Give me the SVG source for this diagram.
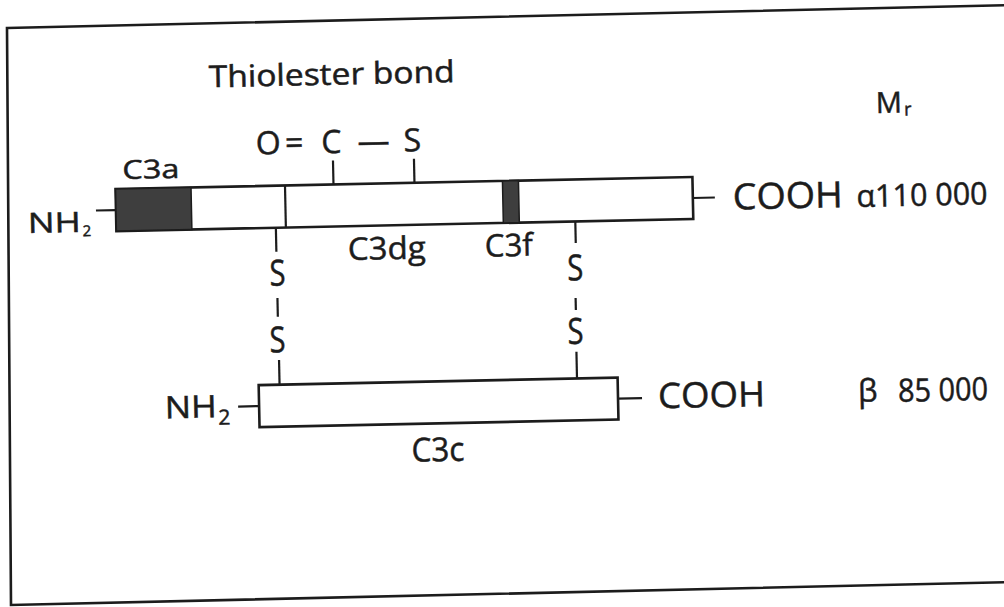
<svg xmlns="http://www.w3.org/2000/svg" width="1004" height="607" viewBox="0 0 1004 607">
<style>
.t{font-family:"Open Sans","Noto Sans","DejaVu Sans",sans-serif;fill:#1c1c1c;stroke:#1c1c1c;stroke-width:0.5}
.ln{stroke:#1c1c1c;stroke-width:2.2;fill:none}
.bar{fill:#ffffff;stroke:#1c1c1c;stroke-width:2.6}
.dark{fill:#3e3e3e;stroke:#1c1c1c;stroke-width:1.5}
.s{font-size:36px;text-anchor:middle}
</style>
<rect width="1004" height="607" fill="#ffffff"/>
<polygon id="frame" points="7,28 1012,5 1012,582 11,605" fill="none" stroke="#1c1c1c" stroke-width="2.6"/>
<g transform="rotate(-1.2 502 303)">
  <g id="alpha-chain">
    <rect class="bar" x="118" y="181" width="577" height="42"/>
    <rect class="dark" x="118" y="181" width="75.5" height="42"/>
    <rect class="dark" x="505" y="181" width="16" height="42"/>
    <line class="ln" x1="287.5" y1="181" x2="287.5" y2="223"/>
    <text class="t" x="29.5" y="223.1" font-size="28" textLength="53" lengthAdjust="spacingAndGlyphs">NH</text>
    <text class="t" x="84.2" y="227.6" font-size="15">2</text>
    <line class="ln" x1="98" y1="202" x2="118" y2="202"/>
    <text class="t" x="125.3" y="171.1" font-size="26" textLength="57" lengthAdjust="spacingAndGlyphs">C3a</text>
    <text class="t" x="348.9" y="256.8" font-size="31" textLength="78" lengthAdjust="spacingAndGlyphs">C3dg</text>
    <text class="t" x="486" y="256.3" font-size="31" textLength="48" lengthAdjust="spacingAndGlyphs">C3f</text>
    <line class="ln" x1="695" y1="202" x2="717" y2="202"/>
    <text class="t" x="735" y="214.3" font-size="36" textLength="110" lengthAdjust="spacingAndGlyphs">COOH</text>
    <text class="t" x="858.7" y="214.5" font-size="31" textLength="131" lengthAdjust="spacingAndGlyphs">α110 000</text>
  </g>
  <g id="beta-chain">
    <rect class="bar" x="257" y="380" width="359" height="42"/>
    <text class="t" x="162.6" y="411.3" font-size="31" textLength="52" lengthAdjust="spacingAndGlyphs">NH</text>
    <text class="t" x="216" y="418.7" font-size="21">2</text>
    <line class="ln" x1="236" y1="401" x2="257" y2="401"/>
    <line class="ln" x1="616" y1="401" x2="640" y2="401"/>
    <text class="t" x="656" y="411.6" font-size="35" textLength="107" lengthAdjust="spacingAndGlyphs">COOH</text>
    <text class="t" x="856" y="409.1" font-size="31">β</text>
    <text class="t" x="896" y="410" font-size="32" textLength="90" lengthAdjust="spacingAndGlyphs">85 000</text>
    <text class="t" x="408.4" y="459.8" font-size="33" textLength="53" lengthAdjust="spacingAndGlyphs">C3c</text>
  </g>
  <g id="thiolester">
    <text class="t" x="213.5" y="81.2" font-size="30" textLength="246" lengthAdjust="spacingAndGlyphs">Thiolester bond</text>
    <text class="t" font-size="32" text-anchor="middle" y="149.5"><tspan x="271.7">O</tspan><tspan x="297.5">=</tspan><tspan x="334.7">C</tspan><tspan x="377">—</tspan><tspan x="415.7">S</tspan></text>
  </g>
  <g id="mr-label">
    <text class="t" x="880" y="120.8" font-size="29">M</text>
    <text class="t" x="908" y="124" font-size="18">r</text>
  </g>
  <g id="disulfide-left">
    <text class="t s" x="278.2" y="281" textLength="16" lengthAdjust="spacingAndGlyphs">S</text>
    <text class="t s" x="276.7" y="347.5" textLength="16" lengthAdjust="spacingAndGlyphs">S</text>
  </g>
  <g id="disulfide-right">
    <text class="t s" x="576" y="282" textLength="16" lengthAdjust="spacingAndGlyphs">S</text>
    <text class="t s" x="574.8" y="345.3" textLength="16" lengthAdjust="spacingAndGlyphs">S</text>
  </g>
  <g id="connectors">
    <line class="ln" x1="336" y1="157" x2="336" y2="181"/>
    <line class="ln" x1="417" y1="157" x2="417" y2="181"/>
    <line class="ln" x1="277.5" y1="223" x2="277.5" y2="247"/>
    <line class="ln" x1="277.6" y1="293.3" x2="277.6" y2="312"/>
    <line class="ln" x1="277.9" y1="355.3" x2="277.9" y2="380"/>
    <line class="ln" x1="577" y1="223" x2="577" y2="244.5"/>
    <line class="ln" x1="575.7" y1="299.5" x2="575.7" y2="311.5"/>
    <line class="ln" x1="575.4" y1="353.2" x2="575.4" y2="380"/>
  </g>
</g>
</svg>
